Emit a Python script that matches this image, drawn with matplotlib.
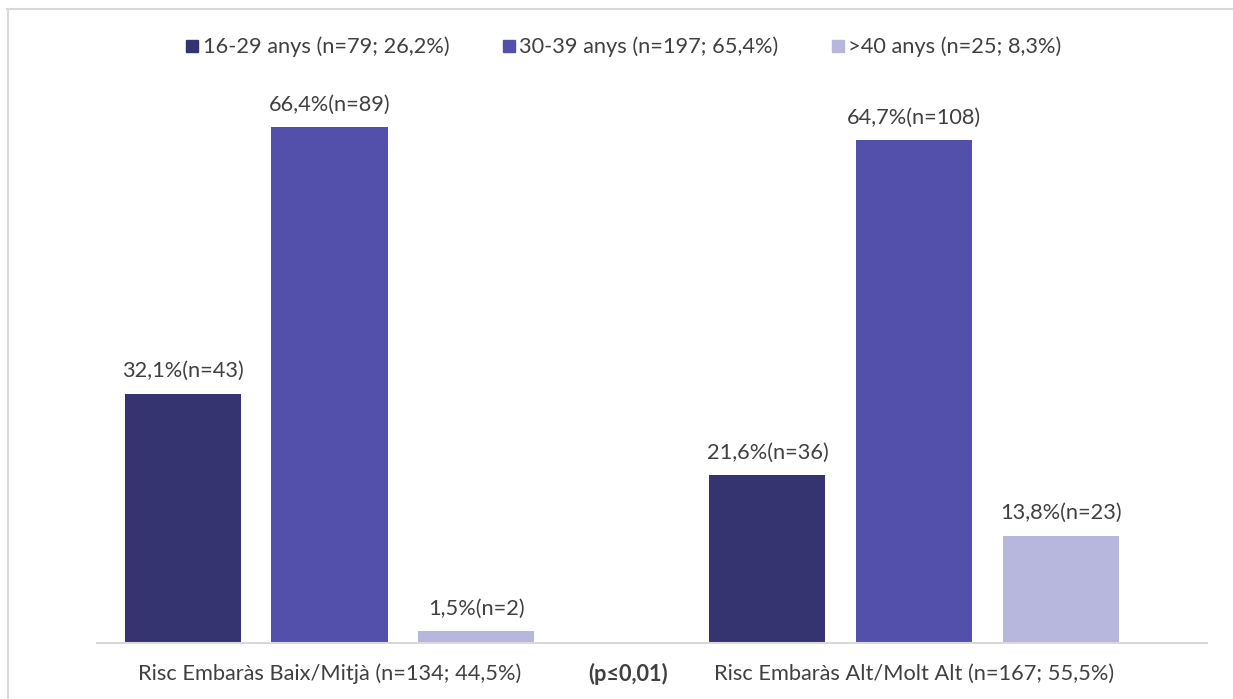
"""
Risc embaràs per grup d'edat
"""

import numpy as np
import matplotlib.pyplot as plt
from matplotlib.lines import Line2D

plt.rcParams['font.family'] = ['Lato', 'DejaVu Sans']

# dades
categories = ["Risc Embaràs Baix/Mitjà (n=134; 44,5%)", "Risc Embaràs Alt/Molt Alt (n=167; 55,5%)"]
grups = ["16-29 anys (n=79; 26,2%)", "30-39 anys (n=197; 65,4%)", ">40 anys (n=25; 8,3%)"]
percent = [[32.1, 21.6], [66.4, 64.7], [1.5, 13.8]]
n_casos = [[43, 36], [89, 108], [2, 23]]
p_text = "(p≤0,01)"

colors = ["#353470", "#5250AA", "#B7B6DC"]
text_col = "#404040"
fs = 15.7

W, H = 1233, 699
fig = plt.figure(figsize=(W / 100, H / 100), dpi=100)
ax = fig.add_axes([97 / W, 56 / H, 1110 / W, 553 / H])

x = np.arange(len(categories))
step = 0.2508
width = 0.1985
for i in range(len(grups)):
    xs = x + (i - 1) * step
    bars = ax.bar(xs, percent[i], width, color=colors[i], label=grups[i], zorder=2)
    for b, v, n in zip(bars, percent[i], n_casos[i]):
        lab = f"{v:.1f}".replace(".", ",") + f"%(n={n})"
        ax.annotate(lab, (b.get_x() + b.get_width() / 2, v), xytext=(0, 9),
                    textcoords="offset points", ha="center", va="bottom",
                    fontsize=fs, color=text_col)

ax.set_xlim(-0.3978, 1.5013)
ax.set_ylim(0, 553 / 7.77)
ax.set_yticks([])
ax.set_xticks(x)
ax.set_xticklabels(categories, fontsize=fs, color=text_col)
ax.tick_params(axis="x", length=0, pad=15)
for s in ["top", "right", "left"]:
    ax.spines[s].set_visible(False)
ax.spines["bottom"].set_color("#D9D9D9")
ax.spines["bottom"].set_linewidth(1.5)

# valor p entre els dos grups
fig.text(628 / W, 1 - 674 / H, p_text, ha="center", va="center",
         fontsize=fs, fontweight="bold", color=text_col)

# llegenda
handles = [Line2D([], [], marker="s", linestyle="", markersize=8.5, color=c) for c in colors]
fig.legend(handles, grups, loc="center", bbox_to_anchor=(622 / W, 1 - 47 / H),
           ncol=3, frameon=False, fontsize=fs, labelcolor=text_col,
           handletextpad=0.05, columnspacing=2.25, handlelength=0.9)

# marc
fig.add_artist(Line2D([7 / W, 1], [1 - 8.5 / H, 1 - 8.5 / H], color="#D9D9D9", lw=1.5))
fig.add_artist(Line2D([7.5 / W, 7.5 / W], [0, 1 - 8.5 / H], color="#D9D9D9", lw=1.5))

fig.savefig("out.png", dpi=100)
